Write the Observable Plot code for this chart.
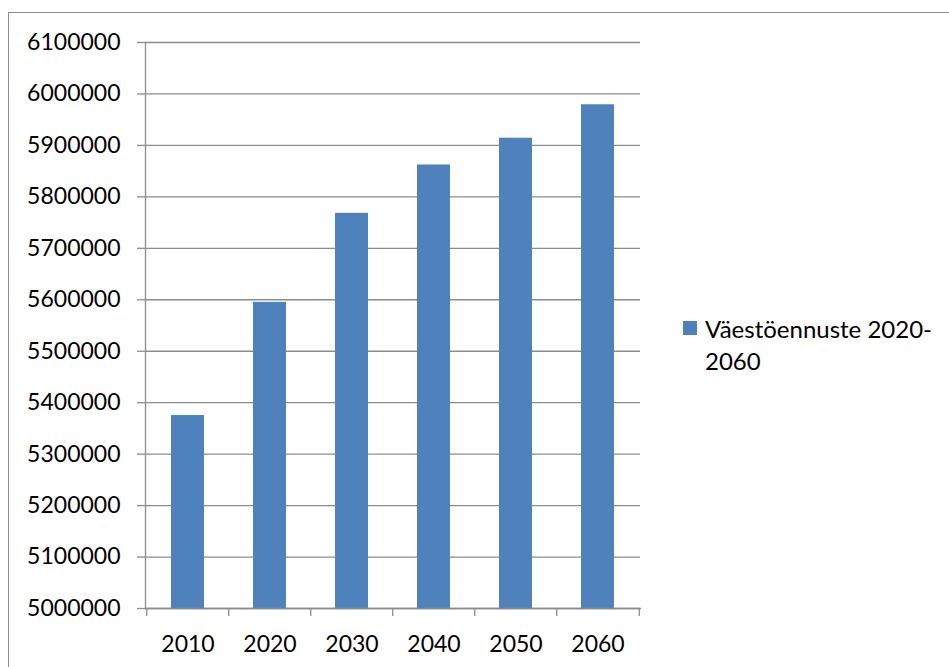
<!DOCTYPE html>
<html>
<head>
<meta charset="utf-8">
<script src="https://cdn.jsdelivr.net/npm/d3@7"></script>
<script src="https://cdn.jsdelivr.net/npm/@observablehq/plot@0.6"></script>
<style>
  html, body { margin: 0; padding: 0; background: #fff; overflow: hidden; }
  #wrap { position: relative; width: 949px; height: 667px; font-family: Lato, "Open Sans", sans-serif; }
  #border { position: absolute; left: 8px; top: 12px; width: 1200px; height: 1000px; border: 1px solid #8c8c8c; box-sizing: border-box; }
  #chart { position: absolute; left: 0; top: 0; }
  #legend { position: absolute; left: 683px; top: 313px; font-size: 24px; color: #000; line-height: 32px; }
  #legend .sw { position: absolute; left: 0; top: 8px; width: 14px; height: 14px; background: #4f81bd; }
  #legend .tx { position: absolute; left: 22px; top: 0; white-space: nowrap; }
</style>
</head>
<body>
<div id="wrap">
  <div id="border"></div>
  <div id="chart"></div>
  <div id="legend"><div class="sw"></div><div class="tx"></div></div>
</div>
<script>
const years = ["2010", "2020", "2030", "2040", "2050", "2060"];
const population = [5375000, 5595000, 5768000, 5862000, 5914000, 5979000];
const yTicks = [5000000, 5100000, 5200000, 5300000, 5400000, 5500000, 5600000, 5700000, 5800000, 5900000, 6000000, 6100000];
const seriesName = ["Väestöennuste 2020-", "2060"];

const rows = years.map((year, i) => ({year, value: population[i]}));

const W = 949, H = 667, mL = 145, mR = 309, mT = 42, mB = 59;
const step = (W - mL - mR) / years.length;
const grey = "#8c8c8c";

const chart = Plot.plot({
  width: W, height: H,
  marginLeft: mL, marginRight: mR, marginTop: mT, marginBottom: mB,
  style: {fontFamily: "Lato, 'Open Sans', sans-serif", fontSize: "23px", color: "#000", background: "transparent"},
  x: {domain: years, paddingInner: 0.6, paddingOuter: 0.3, axis: null, label: null},
  y: {domain: [yTicks[0], yTicks[yTicks.length - 1]], axis: null, label: null},
  marks: [
    Plot.ruleY(yTicks, {stroke: grey, strokeWidth: 1.3}),
    Plot.barY(rows, {x: "year", y1: yTicks[0], y2: "value", fill: "#4f81bd"}),
    Plot.frame({anchor: "left", stroke: grey, strokeWidth: 1.3}),
    Plot.frame({anchor: "bottom", stroke: grey, strokeWidth: 1.3}),
    Plot.axisY({ticks: yTicks, label: null, tickSize: 8, tickPadding: 17, tickFormat: d => String(d), stroke: grey, strokeWidth: 1.3, fontSize: 23, fill: "#000"}),
    Plot.axisX({ticks: years, label: null, tickSize: 8, tickFormat: () => "", dx: -step / 2, stroke: grey, strokeWidth: 1.3}),
    Plot.axisX({ticks: [years[years.length - 1]], label: null, tickSize: 8, tickFormat: () => "", dx: step / 2, stroke: grey, strokeWidth: 1.3}),
    Plot.axisX({ticks: years, label: null, tickSize: 0, tickPadding: 27, fontSize: 23, fill: "#000"})
  ]
});
document.getElementById("chart").appendChild(chart);
document.querySelector("#legend .tx").innerHTML = seriesName.join("<br>");
</script>
</body>
</html>
